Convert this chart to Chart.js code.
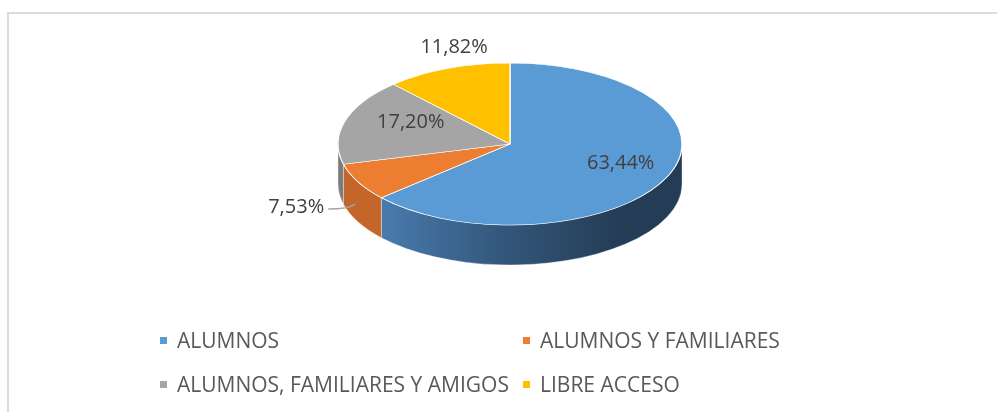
<!DOCTYPE html>
<html>
<head>
<meta charset="utf-8">
<script src="https://cdn.jsdelivr.net/npm/chart.js@4/dist/chart.umd.min.js"></script>
<style>
  html, body { margin: 0; padding: 0; background: #fff; }
  #wrap { position: relative; width: 997px; height: 412px; overflow: hidden; }
  #frame {
    position: absolute; left: 7px; top: 12px; width: 1100px; height: 500px;
    border: 2px solid #dcdcdc; box-sizing: border-box;
  }
  #box { position: absolute; left: 0; top: 0; width: 997px; height: 412px; }
  #legend { position: absolute; left: 160px; top: 326px; width: 760px; font-family: "Open Sans", sans-serif; font-size: 21px; color: #595959; }
  .item { position: absolute; white-space: nowrap; line-height: 28px; }
  .item i { display: inline-block; width: 7px; height: 7px; margin-right: 10px; vertical-align: 4px; }
</style>
</head>
<body>
<div id="wrap">
  <div id="frame"></div>
  <div id="box"><canvas id="pieChart"></canvas></div>
  <div id="legend"></div>
</div>
<script>
const categories = ["ALUMNOS", "ALUMNOS Y FAMILIARES", "ALUMNOS, FAMILIARES Y AMIGOS", "LIBRE ACCESO"];
const shares = [63.44, 7.53, 17.20, 11.82];
const shareLabels = ["63,44%", "7,53%", "17,20%", "11,82%"];

const topColors = ["#5b9bd5", "#ed7d31", "#a5a5a5", "#ffc000"];
const sideColors = ["#3d6a96", "#c4652a", "#7c7c7c", "#bf9000"];

const SQUASH = 0.471;   // vertical ratio of the tilted pie
const DEPTH = 40;       // thickness of the side in px

function sideFill(ctx, i, cx, r) {
    if (i !== 0) return sideColors[i];
    const g = ctx.createLinearGradient(cx - 0.85 * r, 0, cx + 0.65 * r, 0);
    g.addColorStop(0, "#4b80b5");
    g.addColorStop(0.55, "#33567a");
    g.addColorStop(1, "#243c55");
    return g;
}

const tiltPlugin = {
    id: "tilt",
    beforeDatasetsDraw(chart) {
        const ctx = chart.ctx;
        const arcs = chart.getDatasetMeta(0).data;
        if (!arcs.length) return;
        const { x: cx, y: cy, outerRadius: r } = arcs[0].getProps(["x", "y", "outerRadius"], true);
        const ry = r * SQUASH;

        ctx.save();
        // front side of the cylinder, only the part facing the viewer (0..PI)
        arcs.forEach((arc, i) => {
            const p = arc.getProps(["startAngle", "endAngle"], true);
            [0, 2 * Math.PI].forEach(base => {
                const s = Math.max(p.startAngle, base);
                const e = Math.min(p.endAngle, base + Math.PI);
                if (e <= s) return;
                ctx.beginPath();
                ctx.ellipse(cx, cy, r, ry, 0, s, e, false);
                ctx.ellipse(cx, cy + DEPTH, r, ry, 0, e, s, true);
                ctx.closePath();
                ctx.fillStyle = sideFill(ctx, i, cx, r);
                ctx.fill();
                ctx.strokeStyle = "rgba(255,255,255,0.35)";
                ctx.lineWidth = 1;
                ctx.stroke();
            });
        });

        // squash the top face
        ctx.translate(cx, cy);
        ctx.scale(1, SQUASH);
        ctx.translate(-cx, -cy);
    },
    afterDatasetsDraw(chart) {
        chart.ctx.restore();
    }
};

const labelPlugin = {
    id: "sliceLabels",
    afterDraw(chart, args, opts) {
        const ctx = chart.ctx;
        const arcs = chart.getDatasetMeta(0).data;
        ctx.save();
        ctx.font = "20px 'Open Sans', sans-serif";
        ctx.fillStyle = "#404040";
        ctx.textBaseline = "middle";
        arcs.forEach((arc, i) => {
            const p = arc.getProps(["x", "y", "startAngle", "endAngle", "outerRadius"], true);
            const mid = (p.startAngle + p.endAngle) / 2;
            const f = opts.radius[i];
            const px = p.x + Math.cos(mid) * p.outerRadius * f;
            const py = p.y + Math.sin(mid) * p.outerRadius * f * SQUASH + (opts.drop[i] || 0);
            const text = chart.data.datasets[0].labels[i];
            if (opts.leader[i]) {
                ctx.strokeStyle = "#a6a6a6";
                ctx.lineWidth = 1.5;
                ctx.beginPath();
                ctx.moveTo(px - 3, py);
                ctx.quadraticCurveTo(px - 10, py + 5, px - 30, py + 5);
                ctx.stroke();
                ctx.textAlign = "right";
                ctx.fillText(text, px - 34, py + 3);
            } else {
                ctx.textAlign = "center";
                ctx.fillText(text, px + (opts.shift[i] || 0), py);
            }
        });
        ctx.restore();
    }
};

const canvas = document.getElementById("pieChart");
const chart = new Chart(canvas.getContext("2d"), {
    type: "pie",
    data: {
        labels: categories,
        datasets: [{
            data: shares,
            labels: shareLabels,
            backgroundColor: topColors,
            borderColor: "#ffffff",
            borderWidth: 1.2
        }]
    },
    options: {
        responsive: true,
        maintainAspectRatio: false,
        animation: false,
        radius: 172,
        layout: { padding: { left: 23, right: 0, top: 0, bottom: 124 } },
        plugins: {
            legend: { display: false },
            tooltip: { enabled: false },
            sliceLabels: {
                radius: [0.68, 1.0, 0.62, 1.28],
                drop: [-3, 22, -7, 0],
                shift: [4, 0, 3, 24],
                leader: [false, true, false, false]
            }
        }
    },
    plugins: [tiltPlugin, labelPlugin]
});

// html legend in two columns, like the original
const legend = document.getElementById("legend");
categories.forEach((name, i) => {
    const el = document.createElement("div");
    el.className = "item";
    el.style.left = (i % 2) * 363 + "px";
    el.style.top = Math.floor(i / 2) * 44 + "px";
    el.innerHTML = `<i style="background:${topColors[i]}"></i>${name}`;
    legend.appendChild(el);
});
</script>
</body>
</html>
